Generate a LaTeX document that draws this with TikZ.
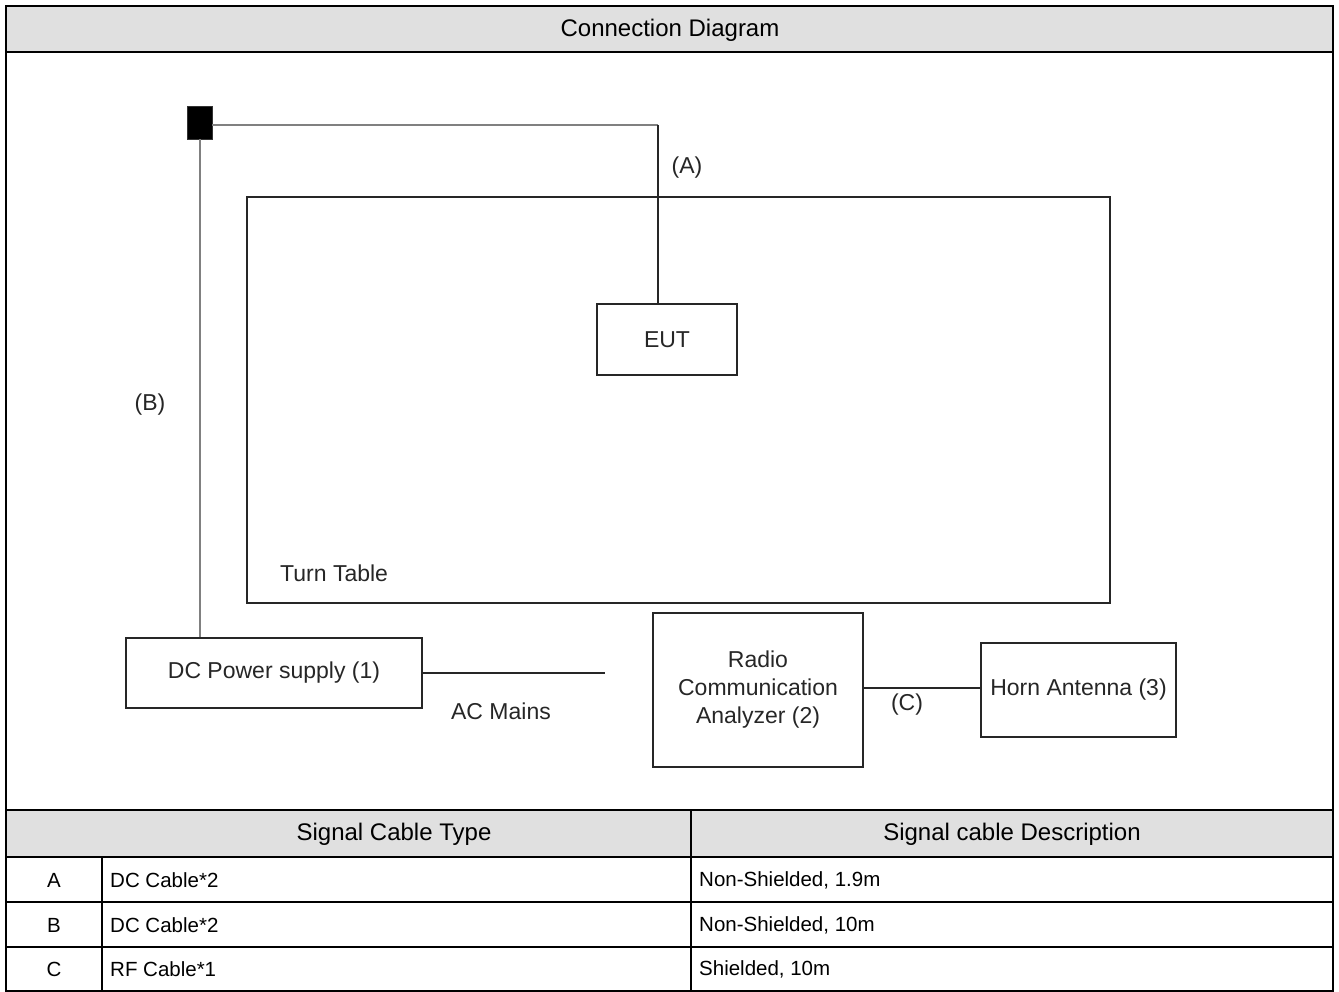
\documentclass[tikz,border=0pt]{standalone}
\usepackage{fontspec}
\setmainfont{Liberation Sans}
\begin{document}
\begin{tikzpicture}[x=1pt,y=-1pt,
  tbltext/.style={font=\fontsize{20.5}{24}\selectfont, inner sep=0pt},
  hdrtext/.style={font=\fontsize{24}{28}\selectfont, inner sep=0pt},
  diatext/.style={font=\fontsize{23}{28}\selectfont, inner sep=0pt, text=black!85},
  box/.style={draw=black!85, line width=1.5pt, inner sep=0pt, font=\fontsize{23}{28}\selectfont, text=black!85},
  cable/.style={line width=1.5pt, draw=black!85},
  gcable/.style={line width=2pt, draw=black!50},
  frame/.style={line width=2.2pt, draw=black},
  hdrfill/.style={fill=black!12}]
\useasboundingbox (0,0) rectangle (1339,992);
% table backgrounds
\fill[hdrfill] (6,6) rectangle (1333,52);
\fill[hdrfill] (6,810) rectangle (1333,857);
% frame lines
\draw[frame] (6,6) rectangle (1333,991);
\draw[frame] (6,52) -- (1333,52);
\draw[frame] (6,810) -- (1333,810);
\draw[frame] (6,857) -- (1333,857);
\draw[frame] (6,902) -- (1333,902);
\draw[frame] (6,947) -- (1333,947);
\draw[frame] (691,810) -- (691,991);
\draw[frame] (102,857) -- (102,991);
% table texts
\node[hdrtext] (title) at (670,30) {Connection Diagram};
\node[hdrtext] (h1) at (394,834) {Signal Cable Type};
\node[hdrtext] (h2) at (1012,834) {Signal cable Description};
\node[tbltext] (ra) at (54,880) {A};
\node[tbltext] (rb) at (54,925) {B};
\node[tbltext] (rc) at (54,969) {C};
\node[tbltext, anchor=west] (ta) at (110,880) {DC Cable*2};
\node[tbltext, anchor=west] (tb) at (110,925) {DC Cable*2};
\node[tbltext, anchor=west] (tc) at (110,969) {RF Cable*1};
\node[tbltext, anchor=west] (da) at (699,880) {Non-Shielded, 1.9m};
\node[tbltext, anchor=west] (db) at (699,925) {Non-Shielded, 10m};
\node[tbltext, anchor=west] (dc) at (699,969) {Shielded, 10m};
% diagram boxes
\node[box, minimum width=863pt, minimum height=406pt] (tt) at (678.5,400) {};
\node[diatext, anchor=west] (ttl) at (280,573) {Turn Table};
\node[box, minimum width=140pt, minimum height=71pt] (eut) at (667,339.5) {EUT};
\node[box, minimum width=296pt, minimum height=70pt] (psu) at (274,673) {DC Power supply (1)};
\node[box, minimum width=210pt, minimum height=154pt, align=center] (ana) at (758,690) {Radio\\Communication\\Analyzer (2)};
\node[box, minimum width=195pt, minimum height=94pt] (horn) at (1078.5,690) {Horn Antenna (3)};
\node[fill=black, draw=black!80, line width=0.6pt, minimum width=25pt, minimum height=33pt, inner sep=0pt] (sq) at (199.5,122.5) {};
% connectors
\coordinate (abend) at (658,125);
\coordinate (acend) at (605,673);
\draw[gcable] (sq.east |- abend) -- (abend);
\draw[cable] (abend) -- (abend |- eut.north);
\draw[gcable] (sq.south -| 200,0) -- (200,0 |- psu.north);
\draw[cable] (psu.east) -- (acend);
\draw[cable] (ana.east |- 0,688) -- (horn.west |- 0,688);
% labels
\node[diatext] (la) at (687,168) {(A)};
\node[diatext] (lb) at (150,405) {(B)};
\node[diatext] (lc) at (907,705) {(C)};
\node[diatext] (lac) at (501,711) {AC Mains};
\end{tikzpicture}
\end{document}
